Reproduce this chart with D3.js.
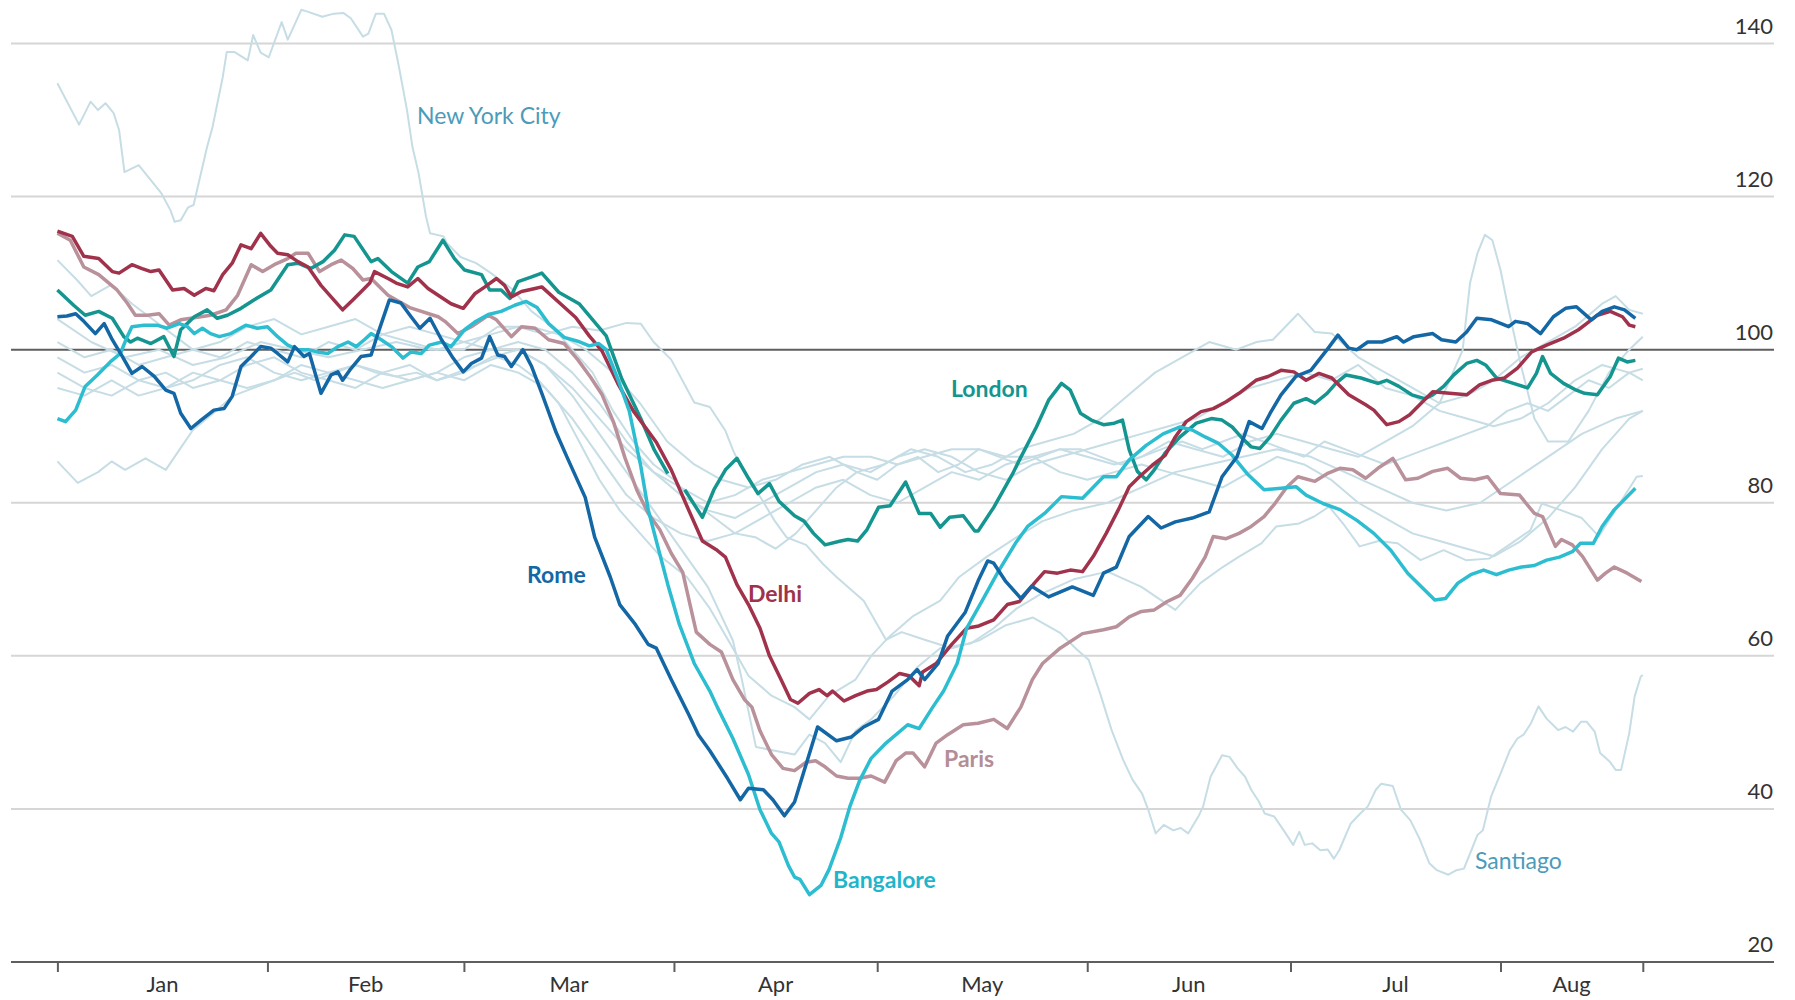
<!DOCTYPE html>
<html>
<head>
<meta charset="utf-8">
<script src="https://cdn.jsdelivr.net/npm/d3@7"></script>
<style>
  body { margin: 0; background: #fff; }
  svg { display: block; font-family: Lato, "Open Sans", sans-serif; }
</style>
</head>
<body>
<div id="chart"></div>
<script>
// values are [day since 1 Jan 2020, index]; null day value = gap in the line
const months = ["Jan", "Feb", "Mar", "Apr", "May", "Jun", "Jul", "Aug"];
const yTicks = [20, 40, 60, 80, 100, 120, 140];

const rome = [[0,104.3],[1.4,104.4],[2.7,104.7],[3.9,103.7],[5.6,102.1],[6.9,103.4],[8.1,101.3],[9.6,99.1],[11,96.9],[12.5,97.8],[14.3,96.5],[16,94.7],[17.2,94.3],[18.2,91.7],[19.7,89.7],[21.2,90.8],[23.1,92.1],[24.6,92.3],[25.8,93.9],[27.1,97.8],[28.6,99.1],[30,100.4],[31.5,100.2],[32.5,99.5],[34,98.4],[35,100.4],[36.4,99.1],[37.2,99.5],[38.9,94.3],[40.4,96.7],[41.4,97.1],[42.1,96],[43.3,97.5],[44.8,99.1],[46.3,99.3],[47.3,102.1],[49,106.5],[50.7,106.1],[52.2,104.3],[53.5,102.8],[55,104.1],[56.7,101.3],[58.4,98.9],[59.9,97.1],[61.1,98.2],[62.6,98.9],[63.8,101.7],[65,99.3],[66,99.1],[67,97.8],[68.7,100],[70,97.8],[71.5,94.3],[73.6,89.2],[75.3,85.8],[77.9,80.7],[79.3,75.5],[81.6,70.3],[83,66.7],[85.3,64.1],[87.2,61.5],[88.4,61],[90.6,56.9],[93.2,52.3],[94.6,49.7],[96.3,47.6],[98.9,44],[100.8,41.2],[102,42.7],[104.2,42.5],[105.6,41.2],[107.3,39.1],[108.8,40.9],[112.2,50.7],[115,48.9],[117.2,49.4],[119,50.7],[121.2,51.7],[123.2,55.4],[125.5,56.9],[126.9,58.2],[128,56.9],[130,59],[131.4,62.6],[134,65.7],[135.9,69.8],[137.3,72.4],[138.2,72.1],[139.9,69.8],[142.2,67.5],[143.8,69.1],[146.3,67.7],[149.8,69],[152.9,67.9],[154.4,70.8],[156.3,71.6],[158.2,75.6],[161,78.2],[162.9,76.7],[165,77.5],[167.5,78],[170,78.8],[171.9,83.4],[174.1,86],[175.9,90.6],[177.8,89.7],[179,91.7],[180.6,94.1],[182.8,96.5],[185,97.3],[187.4,100],[189,101.9],[190.6,100.2],[191.8,100],[193.4,101],[195.5,101],[197.7,101.7],[198.7,101],[200.2,101.7],[203,102.1],[204.3,101.3],[206.4,101],[208,102.3],[209.5,104.1],[211.7,103.9],[214.2,103],[215.2,103.7],[217,103.4],[218.9,102.1],[220.8,104.3],[222.6,105.4],[224.2,105.6],[226.4,103.9],[228,105],[229.8,105.6],[231.3,105.2],[232.9,104.1]];

const delhi = [[0,115.5],[2.2,114.8],[3.9,112.2],[6.1,111.9],[8.1,110.2],[9.1,110],[11,111.1],[12.5,110.6],[13.8,110.2],[15,110.4],[17,107.8],[18.7,108],[20.2,107.1],[21.9,108],[23.1,107.7],[24.4,109.8],[25.8,111.3],[27.1,113.7],[28.6,113.2],[30,115.2],[31.5,113.5],[32.5,112.6],[34,112.4],[35.5,111.5],[37,110.8],[38.9,108.4],[40.4,106.9],[42.1,105.2],[43.6,106.5],[45.3,108],[46.1,108.7],[46.8,110.2],[48.8,109.3],[50,108.7],[51.7,108.2],[53.2,109.3],[54.7,108],[56.2,107.1],[58.1,106],[59.9,105.4],[61.6,107.3],[63.1,108.2],[64.8,109.3],[66,108.4],[67,106.9],[68.5,107.6],[70.5,108],[71.5,108.2],[74.5,105.8],[76.5,104.2],[78.5,101.8],[80.4,99.8],[82.7,95.6],[85,92],[88.4,87.9],[90.6,84.3],[92.9,79.6],[95.2,75],[97.2,73.9],[98.6,72.9],[100.3,69.3],[102,66.7],[103.7,63.6],[105.1,60],[106.8,56.9],[108.2,54.3],[109.3,53.8],[111,55.1],[112.4,55.6],[113.6,54.8],[114.4,55.4],[116.1,54.1],[117.8,54.8],[119.5,55.4],[120.9,55.6],[122.6,56.6],[124.3,57.7],[125.7,57.4],[127.2,56.1],[127.7,57.9],[129.7,59],[132,61.5],[134.2,63.6],[136,63.9],[138.2,64.7],[140.2,66.7],[142,67.1],[144.2,69.5],[145.7,71],[147.6,70.8],[149.5,71.2],[151.3,71],[152.9,73],[154.8,76],[156.6,79.1],[158.2,82.1],[159.7,83.4],[161.6,84.9],[163.5,86.2],[165,88.6],[166.6,90.6],[168.8,91.9],[170.6,92.3],[172.5,93.2],[174.4,94.3],[176.9,96],[178.7,96.5],[180.6,97.3],[182.5,97.1],[184.3,96],[186.2,96.9],[188.1,96.3],[190.6,94.1],[193.1,92.8],[194.3,92.1],[196.2,90.2],[198,90.6],[199.6,91.5],[201.5,93.2],[203,94.5],[205.5,94.3],[208,94.1],[209.9,95.4],[211.7,96],[213.6,96.3],[215.5,97.6],[217.6,99.7],[219.8,100.6],[222.3,101.5],[224.5,102.6],[225.7,103.4],[227.3,104.5],[229.2,105],[231,104.3],[232,103.2],[232.9,103]];

const london = [[0,107.8],[2.4,105.8],[4.1,104.5],[6.1,105],[8.1,104.1],[9.8,101.7],[10.8,101],[11.8,101.5],[13.8,100.8],[15.7,101.7],[17.2,99.1],[18.2,102.6],[20.2,104.3],[22.1,105.2],[23.6,104.1],[25.1,104.5],[27.1,105.4],[29,106.5],[31.5,107.8],[34,111.1],[35.5,111.3],[37.4,110.6],[39.2,111.5],[40.9,113],[42.4,115],[43.8,114.8],[46.3,111.5],[47.3,111.9],[49.3,110.2],[51.7,108.7],[53.2,110.8],[54.9,111.5],[56.9,114.3],[58.6,111.9],[60.1,110.4],[62.6,109.8],[63.8,107.8],[65.5,107.8],[66.8,106.7],[68,108.9],[70,109.5],[71.5,110],[74,107.5],[77,106],[81,101.8],[83.3,96.2],[86.1,91],[88.1,86.9],[90.1,83.8],[91.3,null],[92.6,81.7],[95.2,78.1],[96.9,81.7],[98.6,84.3],[100.3,85.8],[102,83.2],[103.4,81.2],[105.1,82.5],[106.5,80.2],[108.8,78.3],[110.2,77.6],[111.6,76],[113.3,74.5],[115.6,75],[116.7,75.2],[118.1,75],[119.5,76.5],[121.2,79.4],[122.9,79.6],[125.2,82.7],[127.2,78.6],[128.9,78.6],[130.3,76.8],[131.7,78.1],[133.7,78.3],[135.4,76.3],[135.9,76.3],[138.2,79.4],[141,83.8],[142,85.6],[144.5,89.9],[146.3,93.4],[148.2,95.6],[149.5,94.7],[151,91.7],[152.6,90.8],[154.4,90.2],[156,90.4],[157.2,90.8],[158.2,86.9],[159.4,84.1],[160.7,83],[161.9,84.3],[163.5,86.5],[165.7,88.6],[168.1,90.4],[170.3,91],[171.9,90.8],[173.4,89.9],[174.7,88.6],[176.2,87.3],[177.5,87.1],[179,88.6],[180.6,90.8],[182.5,93],[184.3,93.6],[185.6,93],[187.4,94.3],[188.7,95.6],[190.2,96.7],[192.4,96.3],[194.9,95.6],[196.2,96],[198,95.2],[199.9,94.1],[201.8,93.6],[203,94.1],[204.6,95.2],[206.1,96.7],[208,98.2],[209.5,98.6],[210.8,98],[212.4,96.3],[214.2,95.8],[217,95],[218.3,96.9],[219.2,99.1],[220.4,96.9],[222.3,95.6],[224.2,94.7],[225.4,94.3],[227.3,94.1],[229.2,96.5],[230.4,98.9],[231.7,98.4],[232.9,98.6]];

const paris = [[0,115.2],[1.9,114.3],[3.9,110.8],[6.1,109.8],[8.8,107.8],[10.3,106.1],[11.5,104.5],[13.3,104.5],[15,104.7],[16.5,103.2],[18.2,103.9],[19.7,104.1],[22.6,104.5],[24.9,105.2],[26.6,107.1],[28.6,111.1],[30.3,110.2],[32,111.1],[34,111.9],[35.2,112.6],[37,112.6],[38.7,110.2],[40.4,111.1],[41.9,111.7],[43.6,110.6],[45.1,109.1],[46.3,109.3],[48.8,107.1],[52,105.5],[56.2,104.3],[57.2,103.7],[59.1,102.1],[61.1,103],[63.6,104.5],[64.8,103.9],[67,101.7],[68.5,103],[70.5,102.8],[72.5,101.3],[74.8,100.8],[76.8,98.7],[78.7,96.4],[80.4,94.1],[82.1,90.5],[83.8,85.8],[85.5,81.7],[87.2,78.6],[88.9,76.5],[90.6,73.4],[92.3,70.9],[93.5,66.2],[94.3,63.1],[96.3,61.5],[98,60.5],[99.7,56.9],[101.4,54.3],[102.5,53.3],[103.7,50.2],[105.4,47.1],[107.1,45.3],[108.8,45],[110.5,46.1],[111.9,46.3],[113.3,45.5],[115,44.3],[116.7,44],[118.4,44],[120.1,44.3],[122.1,43.5],[123.8,46.3],[125.2,47.3],[126.3,47.3],[128,45.5],[129.7,48.6],[131.4,49.7],[133.7,51],[135.9,51.2],[138.2,51.7],[140.2,50.5],[142.2,53.3],[143.9,56.9],[145.4,59],[148,61],[151.3,62.9],[154.4,63.4],[156.3,63.8],[158.2,65.1],[160,65.8],[161.9,66],[163.8,67.1],[165.7,67.9],[167.5,70.1],[169.4,72.9],[170.6,75.6],[172.5,75.3],[174.4,76],[176.2,76.9],[178.1,78.2],[179.7,79.9],[181.5,82.1],[183.1,83.4],[185.6,82.8],[187.4,83.8],[189.3,84.5],[191.2,84.3],[193.1,83.2],[194.9,84.5],[197.1,85.8],[199,83],[200.8,83.2],[203,84.1],[205.2,84.5],[207.1,83.2],[209.2,83],[211.1,83.4],[213,81.2],[215.8,81],[218,78.6],[219.2,78.2],[221.1,74.3],[222,75.2],[223.6,74.5],[225.1,73],[227.3,69.9],[228.5,70.8],[229.8,71.6],[231.7,70.8],[233.8,69.7]];

const bangalore = [[0,91],[1.2,90.6],[2.7,92.1],[4.1,95.2],[5.9,96.7],[7.8,98.4],[9.3,99.5],[10.3,101.7],[11,103],[12.8,103.2],[14.7,103.2],[16.2,102.8],[18,103.4],[19.2,103],[20.2,102.1],[21.4,102.8],[22.6,102.1],[23.9,101.7],[25.6,102.1],[27.8,103.2],[29.5,102.8],[31,103],[32.5,101.7],[34,100.6],[35.5,100],[37,100],[38.4,99.7],[39.9,99.5],[41.4,100.4],[42.9,101],[44.1,100.4],[45.3,101.3],[46.3,102.1],[47.8,101.3],[49.3,100.4],[51,98.9],[52.2,99.7],[53.7,99.5],[54.9,100.6],[56.7,101],[58.1,100.4],[60.1,102.6],[61.6,103.6],[63.6,104.6],[65.5,105],[67.5,105.8],[69.2,106.3],[70.8,105.5],[72.5,103.4],[74.8,101.6],[76.8,101.1],[78.5,100.5],[79.9,100.8],[81,100],[82.7,96.2],[84.4,92],[86.1,84.8],[87.2,79.1],[88.4,75],[90.1,69.3],[91.8,64.1],[94,59],[96.3,55.4],[97.4,53.3],[99.7,49.2],[102,44.5],[103.7,39.9],[105.4,36.8],[106.5,35.7],[107.9,32.6],[108.8,31.1],[109.6,30.8],[111,28.8],[112.7,30],[113.9,32.1],[115.6,36.2],[117,40.4],[118.4,43.7],[120.1,46.6],[122.3,48.6],[125.5,51],[127.2,50.5],[129.2,53.3],[130.8,55.4],[132.8,59],[134.2,63.6],[136.5,67.2],[138.8,70.9],[141.4,74.7],[143.2,76.9],[145.7,78.6],[148.2,80.8],[151.3,80.6],[154.4,83.4],[156.3,83.4],[158.2,85.6],[160.7,87.5],[163.2,89],[165.7,89.9],[167.5,89.5],[169.4,88.6],[171.3,87.8],[173.4,86.2],[175.6,83.8],[178.1,81.7],[180.6,81.9],[182.8,82.1],[184.3,81],[186.8,79.9],[189.3,79.1],[191.8,77.7],[194.3,76],[196.8,73.8],[199.3,70.8],[201.8,68.6],[203.3,67.3],[204.9,67.5],[206.7,69.5],[208.6,70.6],[210.5,71.2],[212.4,70.6],[214.2,71.2],[216.1,71.6],[218,71.8],[219.8,72.5],[221.7,72.9],[223.6,73.6],[224.8,74.7],[226.7,74.7],[228,76.9],[229.8,79.1],[231.7,80.8],[232.9,81.9]];

const newYork = [[0,134.8],[3.2,129.4],[4.9,132.4],[6,131.3],[7.1,132.2],[8.3,130.9],[9.1,128.7],[9.9,123.2],[12,124.1],[15.3,120.5],[16.7,118.2],[17.3,116.7],[18.2,116.9],[19.3,118.6],[20.1,118.9],[22.1,126.5],[22.9,129.1],[24.4,135.6],[25,138.9],[26.1,138.9],[28.1,137.8],[28.9,141.1],[30,138.8],[31.2,138.2],[33.1,142.8],[34,140.5],[36,144.4],[36.8,144.2],[39.1,143.5],[40.8,143.9],[42.2,144],[43.3,143.3],[45.1,140.9],[45.9,141.3],[47,143.9],[48.2,143.9],[49.3,141.8],[50.4,137],[51.6,131.3],[52.4,126.5],[53.3,123.1],[54.4,117.4],[55,115.2],[57,114.8],[57.5,113.9],[59.5,112.1],[61.8,111.3],[64,110],[67,108],[70,105],[73,103],[76,100],[79,97],[82,92],[85,88],[88,85],[91,83],[94,80],[97,78],[100,76],[103,75.5],[106,74],[109,76],[112,79],[115,82],[118,84],[121,83],[124,85],[127,86],[130,84],[133,85],[136,87],[139,86],[142,85],[145,86],[148,87],[151,87],[154,86],[157,85],[160,86],[163,87],[166,88],[169,87],[172,88],[175,89],[178,88],[181,87],[184,86],[187,88],[190,87],[193,86],[196,85],[199,86],[202,87],[205,88],[208,89],[211,90],[214,92],[217,93],[220,92],[223,94],[226,96],[229,95],[232,97],[234,97.5]];

const santiago = [[0,101],[4,99],[8,100],[12,98],[16,99],[20,100],[24,99],[28,101],[32,100],[36,99],[40,101],[44,100],[48,102],[52,101],[56,100],[60,101],[64,102],[68,103],[72,102],[76,103],[80,102.5],[84,103.5],[86.1,103.4],[88,101],[90.6,98.7],[94,93.1],[96.3,92.5],[98.6,89.4],[99.7,86.9],[100.8,84.8],[103.1,81.7],[105.9,77.6],[107.6,75.5],[110.5,74.5],[113,72],[115,70.3],[119,67.2],[122.3,62.1],[124.6,63.1],[128,62.1],[132,61],[136,62],[140,64],[144,65],[148,63],[150.5,60.8],[152.2,59.5],[153.9,55.1],[155.6,50.3],[157.3,46.4],[158.7,43.8],[160.1,42],[161,39.9],[162.1,36.8],[163.3,37.9],[164.7,37.2],[165.8,37.5],[166.9,36.8],[168.4,39],[169.1,40.3],[170.2,44.2],[171.9,47],[173,46.8],[174.2,45.3],[175.3,44.2],[176.2,42.5],[177.3,41],[178.2,39.4],[179.6,39],[181,37.2],[182.4,35.3],[183.3,37],[184.1,35.3],[185.2,35.5],[186.4,34.6],[187.5,34.7],[188.4,33.5],[189.2,34.6],[190.9,38.1],[192.3,39.4],[193.4,40.3],[194.6,42.5],[195.4,43.3],[197.1,43],[198.3,39.9],[199.7,38.5],[201.1,36],[202.5,32.9],[203.6,32],[205.3,31.4],[206.5,32],[207.6,32.2],[208.7,34.6],[209.6,36.6],[210.4,37.2],[211.6,41.6],[213,44.6],[214.4,47.7],[215.5,49.2],[216.4,49.7],[217.5,51.2],[218.6,53.4],[219.8,51.8],[221.5,50.3],[222.6,50.7],[223.7,50.1],[224.9,51.4],[225.7,51.4],[226.9,50.1],[227.7,47.3],[229.1,46.2],[230,45.1],[230.8,45.1],[232,49.9],[232.8,54.7],[233.7,57.3],[234,57.5]];

// the other, unlabelled cities
const otherA = [[0,111.7],[3,109],[5,107],[8,108.5],[11,106],[14,104],[17,102],[20,100],[24,101],[28,103],[32,104],[36,102],[40,103],[44,104],[48,102],[52,103],[56,102],[60,101],[64,100],[68,100],[72,98],[76,95],[80,91],[84,87],[88,84],[92,82],[96,80],[100,81],[104,83],[108,84],[112,85],[116,86],[120,86],[124,85],[128,86],[132,87],[136,87],[140,86],[144,86],[148,87],[152,86],[156,85],[160,86],[164,88],[168,87],[172,86],[176,88],[180,89],[184,88],[188,87],[192,86],[196,88],[200,90],[204,93],[207.4,99.9],[208.5,108.7],[209.6,112.6],[210.7,115],[211.8,114.3],[213,110.4],[214.1,105.6],[216,98],[218,91],[220,88],[223,88],[226,92],[229,97],[232,100],[234,101.7]];
const otherB = [[0,104],[5,101],[10,99],[15,100],[20,98],[25,99],[30,101],[35,100],[40,99],[45,100],[50,101],[55,100],[60,100],[65,103],[70,103],[74,102],[78,100],[82,97],[86,93],[90,88],[94,85],[98,83],[102,82],[106,83],[110,85],[114,86],[118,84],[122,85],[126,87],[130,86],[134,84],[138,85],[142,87],[146,88],[150,89],[154,91],[158,94],[162,97],[166,99],[170,101],[174,100],[177,101],[179.4,101.3],[183.1,104.7],[185.6,102.3],[188.1,102.1],[192,99],[196,97],[200,95],[204,93],[208,94],[212,96],[216,99],[220,101],[224,103],[228,106],[230,107],[232,105.2],[234,104.7]];
const otherC = [[0,97],[4,95],[8,94],[12,96],[16,97],[20,95],[24,96],[28,98],[32,99],[36,97],[40,96],[44,95],[48,97],[52,96],[56,97],[60,99],[64,100],[68,101],[72,100],[76,97],[80,93],[84,88],[88,84],[92,81],[96,79],[100,78],[104,80],[108,82],[112,84],[116,85],[120,84],[124,86],[128,87],[132,86],[136,84],[140,83],[144,85],[148,86],[152,87],[156,88],[160,89],[164,90],[168,91],[172,93],[176,95],[180,96],[184,97],[188,96],[192,98],[196,95],[200,94],[204,92],[208,91],[212,90],[216,91],[220,93],[224,96],[228,98],[232,97],[234,96]];
const otherD = [[0,99],[4,97],[8,98],[12,96],[16,95],[20,96],[24,98],[28,99],[32,97],[36,96],[40,97],[44,98],[48,97],[52,98],[56,96],[60,97],[64,99],[68,100],[72,98],[76,94],[80,89],[84,84],[88,79],[92,74],[96,69],[99.7,62],[101,57],[103.1,48.1],[105.9,47.6],[108.8,47.1],[111,49.7],[113.3,48.6],[115.6,46.1],[117.8,50.2],[120.1,51.7],[123.5,54.8],[126.9,58.5],[130.3,61],[134.8,61.6],[138.2,63.6],[141.6,66.2],[145,68],[150,70],[155,71],[160,69],[165,66],[168.7,69.5],[172,71.6],[174.3,72.9],[177.7,74.7],[179.9,76.9],[183.3,77.3],[185.5,78.2],[187.7,79.5],[190,77],[192.2,74.3],[195,75],[197.8,74.7],[201.2,72.5],[204.6,73.8],[207.9,72.5],[211.3,72.7],[214.6,74.7],[217.4,76.4],[219.1,79.9],[222,79],[225,78],[227.5,75.6],[230.3,79.5],[233.1,83.4],[234,83.5]];
const otherE = [[0,85.4],[3,82.6],[6,84],[8,85.4],[10,84.3],[13,85.8],[16,84.3],[18,86.9],[20,89.5],[23,91.7],[26,94],[29,95],[32,96],[35,97],[38,96],[41,97],[44,98],[47,97],[50,96.5],[53,97],[56,96],[59,97],[62,98],[65,99],[68,98],[71,96],[74,93],[77,88],[80,83],[83,79],[86,76],[89,73],[92.9,70.3],[96.3,66.2],[99.7,61],[102,57.4],[105.4,54.8],[108.8,53.3],[111,51.7],[113.9,54.8],[117.8,56.9],[120.1,60],[122.9,62.6],[126.3,65.2],[130.3,67.2],[133.1,70.3],[137.1,72.9],[141.6,75.5],[145.4,77.6],[150,79],[155,80],[160,82],[165,84],[170,85],[175,86],[180,87],[185,86],[190,84],[195,82],[200,80],[205,79],[210,80],[215,83],[220,86],[225,89],[230,91],[234,92]];
const otherF = [[0,95],[4,94],[8,96],[12,94],[16,95],[20,97],[24,96],[28,95],[32,96],[36,98],[40,97],[44,96],[48,95],[52,96],[56,97],[60,96],[64,98],[68,97],[72,95],[76,91],[80,86],[84,81],[88,78],[92,76],[96,75],[100,76],[104,78],[108,80],[112,82],[116,83],[120,81],[124,80],[128,82],[132,84],[136,83],[140,85],[144,86],[148,84],[152,83],[156,84],[160,85],[164,84],[168,83],[172,82],[176,84],[180,86],[184,85],[188,83],[192,80],[196,78],[200,76],[204,75],[208,74],[212,73],[216,75],[220,78],[224,82],[228,87],[232,91],[234,92]];

const greyCities = [otherA, otherB, otherC, otherD, otherE, otherF, newYork, santiago];
const mainCities = [
  { name: "Paris", values: paris, color: "#b9919b" },
  { name: "London", values: london, color: "#14958f" },
  { name: "Delhi", values: delhi, color: "#a0324b" },
  { name: "Bangalore", values: bangalore, color: "#2dbdd1" },
  { name: "Rome", values: rome, color: "#1467a5" }
];

const width = 1795, height = 1000;
const start = Date.UTC(2020, 0, 1);
const end = Date.UTC(2020, 7, 22);

function dayToDate(d) {
  return new Date(start + d * 864e5);
}

const svg = d3.select("#chart")
  .append("svg")
  .attr("width", width)
  .attr("height", height);

const x = d3.scaleUtc()
  .domain([new Date(start), new Date(end)])
  .range([57.4, 1642.8]);

const y = d3.scaleLinear()
  .domain([20, 140])
  .range([962, 43.5]);

// horizontal gridlines, 100 and the baseline in dark grey
svg.append("g")
  .selectAll("line")
  .data(yTicks)
  .join("line")
  .attr("x1", 11)
  .attr("x2", 1774)
  .attr("y1", d => y(d))
  .attr("y2", d => y(d))
  .attr("stroke", d => (d === 100 || d === 20) ? "#5e5e5e" : "#d6d6d6")
  .attr("stroke-width", 2);

svg.append("g")
  .selectAll("text")
  .data(yTicks)
  .join("text")
  .attr("x", 1773)
  .attr("y", d => y(d) - 10)
  .attr("text-anchor", "end")
  .attr("font-size", 22)
  .attr("fill", "#333")
  .text(d => d);

// month ticks below the baseline
const monthStarts = d3.utcMonth.range(new Date(start), new Date(end));
const tickDates = monthStarts.concat([new Date(end)]);

const xAxis = d3.axisBottom(x)
  .tickValues(tickDates)
  .tickSize(10)
  .tickFormat("");

const gx = svg.append("g")
  .attr("transform", "translate(0," + y(20) + ")")
  .call(xAxis);
gx.select(".domain").remove();
gx.selectAll(".tick line").attr("stroke", "#5e5e5e").attr("stroke-width", 2);

svg.append("g")
  .selectAll("text")
  .data(months)
  .join("text")
  .attr("x", (m, i) => (x(tickDates[i]) + x(tickDates[i + 1])) / 2)
  .attr("y", 992)
  .attr("text-anchor", "middle")
  .attr("font-size", 22)
  .attr("fill", "#333")
  .text(m => m);

const line = d3.line()
  .defined(d => d[1] !== null)
  .x(d => x(dayToDate(d[0])))
  .y(d => y(d[1]));

svg.append("g")
  .selectAll("path")
  .data(greyCities)
  .join("path")
  .attr("d", line)
  .attr("fill", "none")
  .attr("stroke", "#c6dde5")
  .attr("stroke-width", 2)
  .attr("stroke-linejoin", "round");

svg.append("g")
  .selectAll("path")
  .data(mainCities)
  .join("path")
  .attr("d", d => line(d.values))
  .attr("fill", "none")
  .attr("stroke", d => d.color)
  .attr("stroke-width", 3.5)
  .attr("stroke-linejoin", "round");

// city labels
const labels = [
  { text: "New York City", x: 417, y: 124, color: "#4b9bba", weight: 400 },
  { text: "London", x: 951, y: 397, color: "#14958f", weight: 700 },
  { text: "Rome", x: 527, y: 583, color: "#1467a5", weight: 700 },
  { text: "Delhi", x: 748, y: 602, color: "#a0324b", weight: 700 },
  { text: "Paris", x: 944, y: 767, color: "#b48d97", weight: 700 },
  { text: "Bangalore", x: 833, y: 888, color: "#1fb5ca", weight: 700 },
  { text: "Santiago", x: 1475, y: 869, color: "#4b9bba", weight: 400 }
];

svg.append("g")
  .selectAll("text")
  .data(labels)
  .join("text")
  .attr("x", d => d.x)
  .attr("y", d => d.y)
  .attr("font-size", 23)
  .attr("font-weight", d => d.weight)
  .attr("fill", d => d.color)
  .text(d => d.text);
</script>
</body>
</html>
